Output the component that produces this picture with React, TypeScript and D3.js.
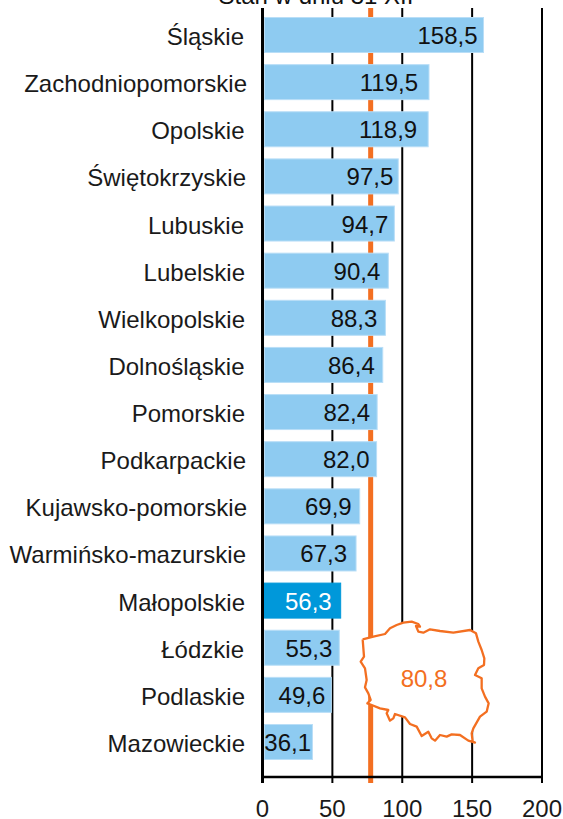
import React from "react";
import * as d3 from "d3";

const categories = ["Śląskie","Zachodniopomorskie","Opolskie","Świętokrzyskie","Lubuskie","Lubelskie","Wielkopolskie","Dolnośląskie","Pomorskie","Podkarpackie","Kujawsko-pomorskie","Warmińsko-mazurskie","Małopolskie","Łódzkie","Podlaskie","Mazowieckie"];
const values = [158.5,119.5,118.9,97.5,94.7,90.4,88.3,86.4,82.4,82.0,69.9,67.3,56.3,55.3,49.6,36.1];
const highlighted = "Małopolskie";
const ticks = [0,50,100,150,200];
const referenceValue = 77.4;
const averageLabel = "80,8";
const title = "Stan w dniu 31 XII";
const outline: [number, number][] = [[68,118],[100,110],[135,102],[150,85],[170,75],[190,68],[215,65],[235,72],[240,80],[228,78],[235,95],[250,98],[270,88],[300,93],[340,98],[390,90],[408,100],[415,125],[425,150],[433,175],[432,195],[415,205],[405,225],[425,235],[425,265],[435,290],[446,310],[440,335],[420,350],[400,385],[395,400],[398,425],[405,428],[385,422],[360,405],[335,403],[320,410],[300,405],[285,422],[275,415],[265,395],[245,408],[230,380],[210,372],[195,352],[165,342],[160,355],[150,362],[140,340],[145,330],[120,325],[95,315],[82,310],[92,300],[85,280],[75,262],[80,240],[75,205],[62,185],[72,170],[68,118]];
const labelRight = [244,247,244.5,246,244,245,245,244.5,245,246,247,246,245,244,245,245];
const valueNudge = [2,-3,-3,3,2,0,0,0,1,1,0,-1,-1,1,2,1];

const font = "'Liberation Sans', Arial, sans-serif";
const x = d3.scaleLinear().domain([0, 200]).range([262.5, 542]);
const barTop = d3.scaleLinear().domain([0, categories.length - 1]).range([17, 724]);
const barHeight = 36;
const mapX = d3.scaleLinear().domain([0, 510]).range([340, 510]);
const mapY = d3.scaleLinear().domain([0, 657]).range([600, 819]);
const mapLine = d3.line<[number, number]>().x(d => mapX(d[0])).y(d => mapY(d[1]));

export default function App() {
  return (
    <svg width={563} height={819} style={{ position: "absolute", left: 0, top: 0 }} fontFamily={font}>
      <text x={316} y={4} fontSize={24} textAnchor="middle" fill="#111">{title}</text>
      {ticks.map(t => (
        <line key={t} x1={x(t)} x2={x(t)} y1={8} y2={783} stroke="#000" strokeWidth={t === 0 ? 3 : 2} />
      ))}
      <line x1={x(referenceValue)} x2={x(referenceValue)} y1={8} y2={783} stroke="#F36F21" strokeWidth={5} />
      <line x1={x(0)} x2={x(200)} y1={777} y2={777} stroke="#000" strokeWidth={2.5} />
      {categories.map((c, i) => {
        const hi = c === highlighted;
        return (
          <g key={c}>
            <rect x={x(0) + 2} y={barTop(i) + 0.5} width={x(values[i]) - x(0) - 2.5} height={barHeight - 1} fill={hi ? "#0098DA" : "#8ECBF1"} stroke={hi ? "#0098DA" : "#B9DEF7"} strokeWidth={1} />
            <text x={labelRight[i]} y={barTop(i) + 28} fontSize={24} textAnchor="end" fill="#1a1a1a">{c}</text>
            <text x={Math.max(x(values[i]) - 8.5, 310) + valueNudge[i]} y={barTop(i) + 27} fontSize={24} textAnchor="end" fill={hi ? "#fff" : "#111"}>
              {values[i].toFixed(1).replace(".", ",")}
            </text>
          </g>
        );
      })}
      <path d={mapLine(outline)!} fill="#fff" stroke="#F36F21" strokeWidth={2.3} strokeLinejoin="round" />
      <text x={mapX(252)} y={mapY(262)} fontSize={24} textAnchor="middle" fill="#F36F21">{averageLabel}</text>
      {ticks.map(t => (
        <text key={t} x={x(t)} y={817} fontSize={24} textAnchor="middle" fill="#1a1a1a">{t}</text>
      ))}
    </svg>
  );
}
